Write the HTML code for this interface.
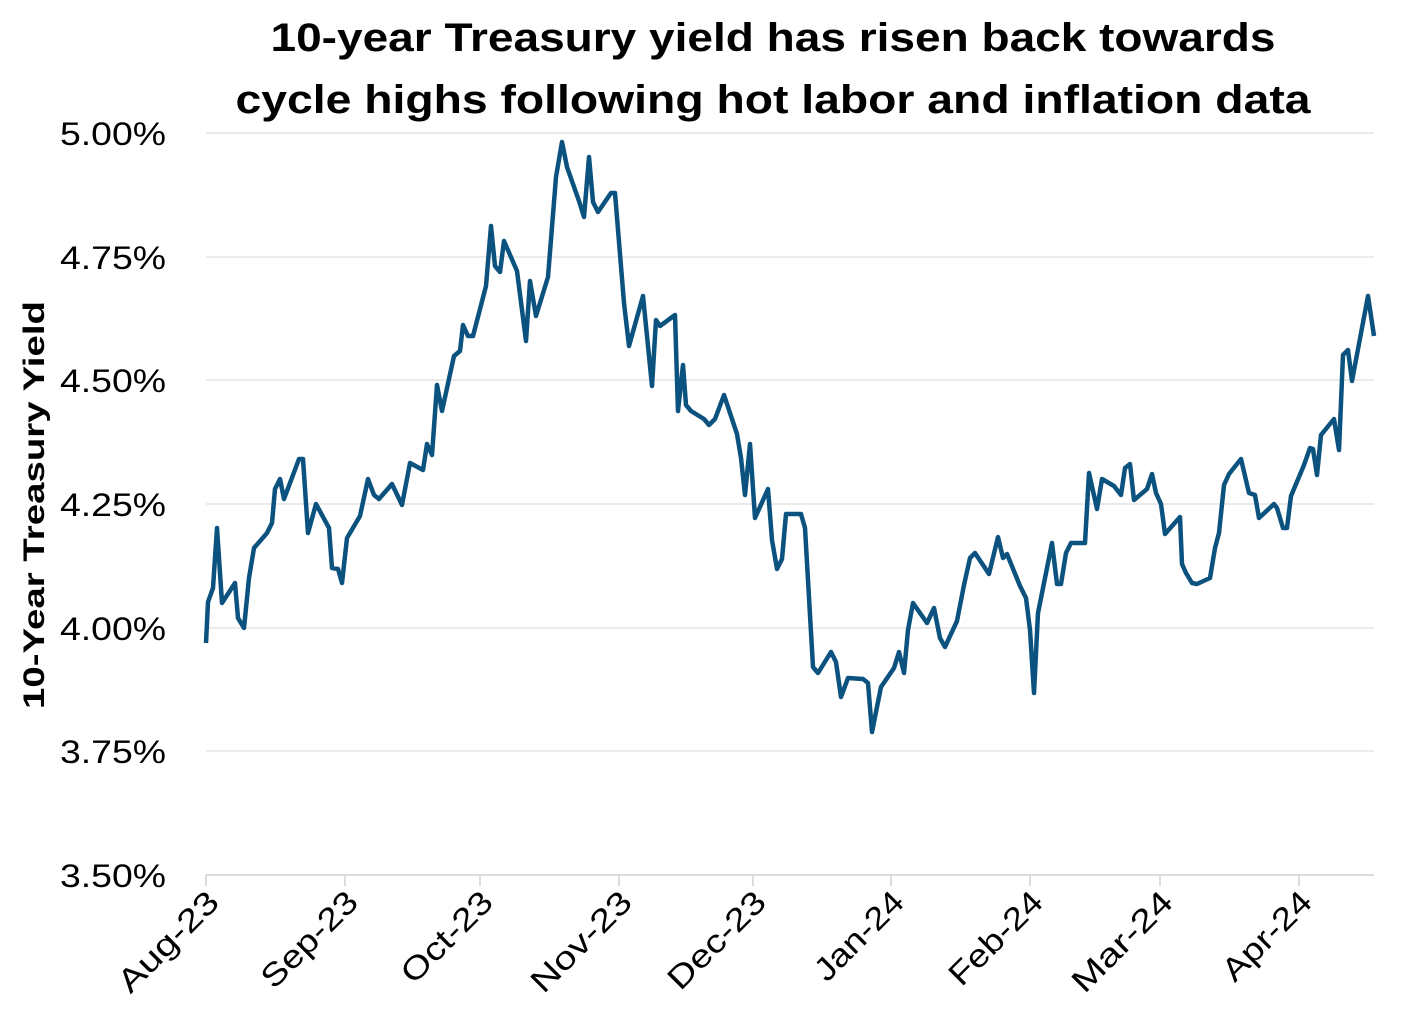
<!DOCTYPE html>
<html><head><meta charset="utf-8"><style>
body{margin:0;background:#fff}
svg{display:block}
text{font-family:"Liberation Sans",sans-serif}
</style></head><body>
<svg width="1421" height="1032" viewBox="0 0 1421 1032" xmlns="http://www.w3.org/2000/svg">
<g font-weight="bold" font-size="40" text-anchor="middle" fill="#000">
<text x="773" y="51" textLength="1005" lengthAdjust="spacingAndGlyphs">10-year Treasury yield has risen back towards</text>
<text x="773" y="113" textLength="1075" lengthAdjust="spacingAndGlyphs">cycle highs following hot labor and inflation data</text>
</g>
<g stroke="#e3e3e3" stroke-width="1.5">
<line x1="206" x2="1374" y1="133" y2="133"/>
<line x1="206" x2="1374" y1="257" y2="257"/>
<line x1="206" x2="1374" y1="380" y2="380"/>
<line x1="206" x2="1374" y1="504" y2="504"/>
<line x1="206" x2="1374" y1="628" y2="628"/>
<line x1="206" x2="1374" y1="751" y2="751"/>
</g>
<line x1="206" x2="1374" y1="875" y2="875" stroke="#d0d0d0" stroke-width="1.5"/>
<g stroke="#d0d0d0" stroke-width="1.5">
<line x1="206" x2="206" y1="875" y2="886"/><line x1="345" x2="345" y1="875" y2="886"/>
<line x1="480" x2="480" y1="875" y2="886"/><line x1="619" x2="619" y1="875" y2="886"/>
<line x1="753" x2="753" y1="875" y2="886"/><line x1="891" x2="891" y1="875" y2="886"/>
<line x1="1030" x2="1030" y1="875" y2="886"/><line x1="1160" x2="1160" y1="875" y2="886"/>
<line x1="1299" x2="1299" y1="875" y2="886"/>
</g>
<g font-size="32" text-anchor="end" fill="#000">
<text x="166" y="145" textLength="106" lengthAdjust="spacingAndGlyphs">5.00%</text><text x="166" y="269" textLength="106" lengthAdjust="spacingAndGlyphs">4.75%</text>
<text x="166" y="392" textLength="106" lengthAdjust="spacingAndGlyphs">4.50%</text><text x="166" y="516" textLength="106" lengthAdjust="spacingAndGlyphs">4.25%</text>
<text x="166" y="640" textLength="106" lengthAdjust="spacingAndGlyphs">4.00%</text><text x="166" y="763" textLength="106" lengthAdjust="spacingAndGlyphs">3.75%</text>
<text x="166" y="887" textLength="106" lengthAdjust="spacingAndGlyphs">3.50%</text>
</g>
<text transform="translate(44,505) rotate(-90)" font-size="30" font-weight="bold" text-anchor="middle" textLength="408" lengthAdjust="spacingAndGlyphs">10-Year Treasury Yield</text>
<g font-size="32" text-anchor="end" fill="#000">
<text transform="translate(221,904) rotate(-45)" textLength="128" lengthAdjust="spacingAndGlyphs">Aug-23</text>
<text transform="translate(360,904) rotate(-45)" textLength="122" lengthAdjust="spacingAndGlyphs">Sep-23</text>
<text transform="translate(495,904) rotate(-45)" textLength="115" lengthAdjust="spacingAndGlyphs">Oct-23</text>
<text transform="translate(634,904) rotate(-45)" textLength="128" lengthAdjust="spacingAndGlyphs">Nov-23</text>
<text transform="translate(768,904) rotate(-45)" textLength="124" lengthAdjust="spacingAndGlyphs">Dec-23</text>
<text transform="translate(906,904) rotate(-45)" textLength="112" lengthAdjust="spacingAndGlyphs">Jan-24</text>
<text transform="translate(1045,904) rotate(-45)" textLength="118" lengthAdjust="spacingAndGlyphs">Feb-24</text>
<text transform="translate(1175,904) rotate(-45)" textLength="128" lengthAdjust="spacingAndGlyphs">Mar-24</text>
<text transform="translate(1314,904) rotate(-45)" textLength="112" lengthAdjust="spacingAndGlyphs">Apr-24</text>
</g>
<polyline fill="none" stroke="#0b527f" stroke-width="4.5" stroke-linejoin="round" points="
206,643 208,602 213,588 217,528 222,603 235,583 238,618 244,628 249,578 254,548 267,533 272,523 275,489 280,479 284,499 299,459 303,459 308,533 316,504 329,528 332,568 338,569 342,583 347,538 360,516 368,479 374,495 379,499 392,484 402,505 410,463 423,470 427,444 432,455 437,385 442,411 454,356 460,351 463,325 468,336 473,336 486,286 491,226 495,266 500,272 504,241 517,271 526,341 530,281 536,316 548,277 556,177 562,142 567,167 579,201 584,217 589,157 593,202 598,212 611,193 615,193 624,303 629,346 643,296 652,386 656,320 660,326 675,315 678,411 683,365 686,405 691,411 704,419 709,425 715,419 724,395 737,434 741,458 745,495 750,444 755,518 768,489 772,540 777,569 782,559 786,514 801,514 805,528 813,667 818,673 831,652 836,662 841,697 848,678 863,679 868,683 872,732 881,687 894,668 899,652 904,673 908,630 913,603 927,623 934,608 940,638 945,647 957,621 964,585 970,558 975,553 989,574 998,537 1003,558 1007,554 1020,586 1026,598 1030,630 1034,693 1038,613 1052,543 1057,584 1061,584 1066,553 1071,543 1085,543 1089,473 1097,509 1102,479 1114,486 1121,495 1125,468 1130,464 1134,500 1147,489 1152,474 1156,493 1161,504 1165,534 1180,517 1182,564 1186,573 1192,583 1197,584 1210,578 1215,548 1219,533 1224,485 1229,474 1241,459 1249,493 1255,495 1259,518 1274,504 1277,508 1283,528 1287,528 1291,496 1304,465 1310,448 1313,449 1317,475 1321,435 1334,419 1339,450 1343,355 1348,350 1352,381 1368,296 1374,336"/>
</svg>
</body></html>
